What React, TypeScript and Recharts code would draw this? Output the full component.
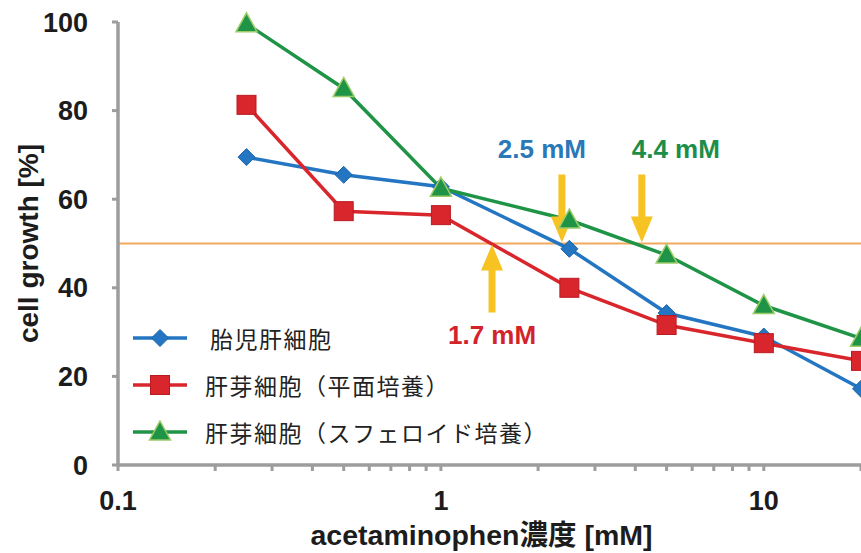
import React from "react";
import {
  LineChart,
  Line,
  XAxis,
  YAxis,
  ReferenceLine,
  ReferenceDot,
  Legend,
} from "recharts";

// acetaminophen concentration [mM]
const concentrations = [0.25, 0.5, 1, 2.5, 5, 10, 20];
// cell growth [%]
const fetalHepatocytes = [69.5, 65.5, 62.8, 48.8, 34.3, 29, 17.2];
const budFlat = [81.3, 57.3, 56.4, 40, 31.6, 27.5, 23.5];
const budSpheroid = [99.6, 85, 62.5, 55.3, 47.4, 36, 28.6];

const seriesNames = ["胎児肝細胞", "肝芽細胞（平面培養）", "肝芽細胞（スフェロイド培養）"];

const xTicks = [
  0.1, 0.2, 0.3, 0.4, 0.5, 0.6, 0.7, 0.8, 0.9,
  1, 2, 3, 4, 5, 6, 7, 8, 9,
  10, 20,
];
const xMajorTicks = [0.1, 1, 10];
const yTicks = [0, 20, 40, 60, 80, 100];

// IC50 markers: where each arrow sits and what it says
const cutoffX = [2.37, 4.19, 1.44];
const cutoffLabels = ["2.5 mM", "4.4 mM", "1.7 mM"];
const halfGrowth = 50;

const data = concentrations.map((x, i) => ({
  x,
  fetal: fetalHepatocytes[i],
  flat: budFlat[i],
  spheroid: budSpheroid[i],
}));

const BLUE = "#2476c2";
const RED = "#d8262c";
const GREEN = "#1f9447";
const AXIS = "#9d9d9d";
const LATIN = "'Liberation Sans', Arial, sans-serif";
const CJK = "'Noto Sans CJK JP', 'Liberation Sans', sans-serif";
const MIXED = "'Liberation Sans', 'Noto Sans CJK JP', sans-serif";

const cutoffStyle = [
  { color: "#2a78b8", dir: "down", dx: -20 },
  { color: "#1b8e4a", dir: "down", dx: 34 },
  { color: "#d3232a", dir: "up", dx: 0 },
];

function Diamond({ cx, cy }: any) {
  const s = 8.5;
  return (
    <polygon
      points={`${cx},${cy - s} ${cx + s},${cy} ${cx},${cy + s} ${cx - s},${cy}`}
      fill={BLUE}
      stroke="#1d64a8"
      strokeWidth={1}
    />
  );
}

function Square({ cx, cy }: any) {
  const s = 9.5;
  return (
    <rect x={cx - s} y={cy - s} width={s * 2} height={s * 2} fill={RED} stroke="#b81c22" strokeWidth={1} />
  );
}

function Triangle({ cx, cy }: any) {
  const w = 10.5;
  return (
    <polygon
      points={`${cx},${cy - 11} ${cx + w},${cy + 8} ${cx - w},${cy + 8}`}
      fill={GREEN}
      stroke="#9ccc65"
      strokeWidth={1.5}
    />
  );
}

const markers = [Diamond, Square, Triangle];
const colors = [BLUE, RED, GREEN];

function CutoffArrow({ cx, cy, idx }: any) {
  const st = cutoffStyle[idx];
  const s = st.dir === "down" ? -1 : 1;
  const y0 = cy - (st.dir === "down" ? 1 : -1);
  const pts = [
    [cx, y0],
    [cx + 11, y0 + s * 26],
    [cx + 3.5, y0 + s * 26],
    [cx + 3.5, y0 + s * 68],
    [cx - 3.5, y0 + s * 68],
    [cx - 3.5, y0 + s * 26],
    [cx - 11, y0 + s * 26],
  ]
    .map((p) => p.join(","))
    .join(" ");
  const ty = st.dir === "down" ? cy - 86 : cy + 100;
  return (
    <g>
      <polygon points={pts} fill="#f6c322" />
      <text
        x={cx + st.dx}
        y={ty}
        textAnchor="middle"
        fill={st.color}
        fontFamily={LATIN}
        fontWeight="bold"
        fontSize={26}
      >
        {cutoffLabels[idx]}
      </text>
    </g>
  );
}

function LegendBox() {
  return (
    <div style={{ fontFamily: CJK, fontSize: 23, color: "#222", letterSpacing: 1.5 }}>
      {seriesNames.map((name, i) => {
        const M = markers[i];
        return (
          <div key={name} style={{ display: "flex", alignItems: "center", height: 47 }}>
            <svg width={60} height={24}>
              <line x1={3} y1={12} x2={57} y2={12} stroke={colors[i]} strokeWidth={3.5} />
              <M cx={30} cy={12} />
            </svg>
            <span style={{ marginLeft: i === 0 ? 20 : 15, whiteSpace: "nowrap" }}>{name}</span>
          </div>
        );
      })}
    </div>
  );
}

const tickStyle = { fill: "#1c1c1c", fontSize: 27, fontWeight: "bold", fontFamily: LATIN };

export default function App() {
  return (
    <div style={{ position: "absolute", left: 0, top: 0, width: 861, height: 553, background: "#fff" }}>
      <LineChart width={861} height={553} data={data} margin={{ top: 22, right: 0, bottom: 0, left: 0 }}>
        <XAxis
          dataKey="x"
          type="number"
          scale="log"
          domain={[0.1, 20]}
          ticks={xTicks}
          interval={0}
          allowDataOverflow
          tickFormatter={(v: number) => (xMajorTicks.includes(v) ? String(v) : "")}
          tick={tickStyle}
          tickSize={6}
          tickMargin={20}
          height={88}
          stroke={AXIS}
          strokeWidth={3.5}
          tickLine={{ stroke: AXIS, strokeWidth: 3 }}
          label={{
            value: "acetaminophen濃度 [mM]",
            position: "insideBottom",
            offset: 8,
            dx: -8,
            fill: "#1c1c1c",
            fontSize: 28.5,
            fontWeight: "bold",
            fontFamily: MIXED,
          }}
        />
        <YAxis
          type="number"
          domain={[0, 100]}
          ticks={yTicks}
          interval={0}
          width={118}
          tick={tickStyle}
          tickSize={6}
          tickMargin={24}
          stroke={AXIS}
          strokeWidth={3.5}
          tickLine={{ stroke: AXIS, strokeWidth: 3 }}
          label={{
            value: "cell growth [%]",
            angle: -90,
            position: "insideLeft",
            offset: 28,
            textAnchor: "middle",
            fill: "#1c1c1c",
            fontSize: 28,
            fontWeight: "bold",
            fontFamily: LATIN,
          }}
        />
        <ReferenceLine y={halfGrowth} stroke="#f0a95e" strokeWidth={1.8} />
        <Line
          dataKey="fetal"
          name={seriesNames[0]}
          stroke={BLUE}
          strokeWidth={3.5}
          dot={(p: any) => <Diamond key={`d${p.index}`} cx={p.cx} cy={p.cy} />}
          isAnimationActive={false}
        />
        <Line
          dataKey="flat"
          name={seriesNames[1]}
          stroke={RED}
          strokeWidth={3.5}
          dot={(p: any) => <Square key={`s${p.index}`} cx={p.cx} cy={p.cy} />}
          isAnimationActive={false}
        />
        <Line
          dataKey="spheroid"
          name={seriesNames[2]}
          stroke={GREEN}
          strokeWidth={3.5}
          dot={(p: any) => <Triangle key={`t${p.index}`} cx={p.cx} cy={p.cy} />}
          isAnimationActive={false}
        />
        {cutoffX.map((x, i) => (
          <ReferenceDot
            key={cutoffLabels[i]}
            x={x}
            y={halfGrowth}
            r={0}
            shape={(p: any) => <CutoffArrow cx={p.cx} cy={p.cy} idx={i} />}
          />
        ))}
        <Legend
          layout="horizontal"
          verticalAlign="middle"
          align="center"
          wrapperStyle={{ left: 130, top: 314, width: 460 }}
          content={() => <LegendBox />}
        />
      </LineChart>
    </div>
  );
}
